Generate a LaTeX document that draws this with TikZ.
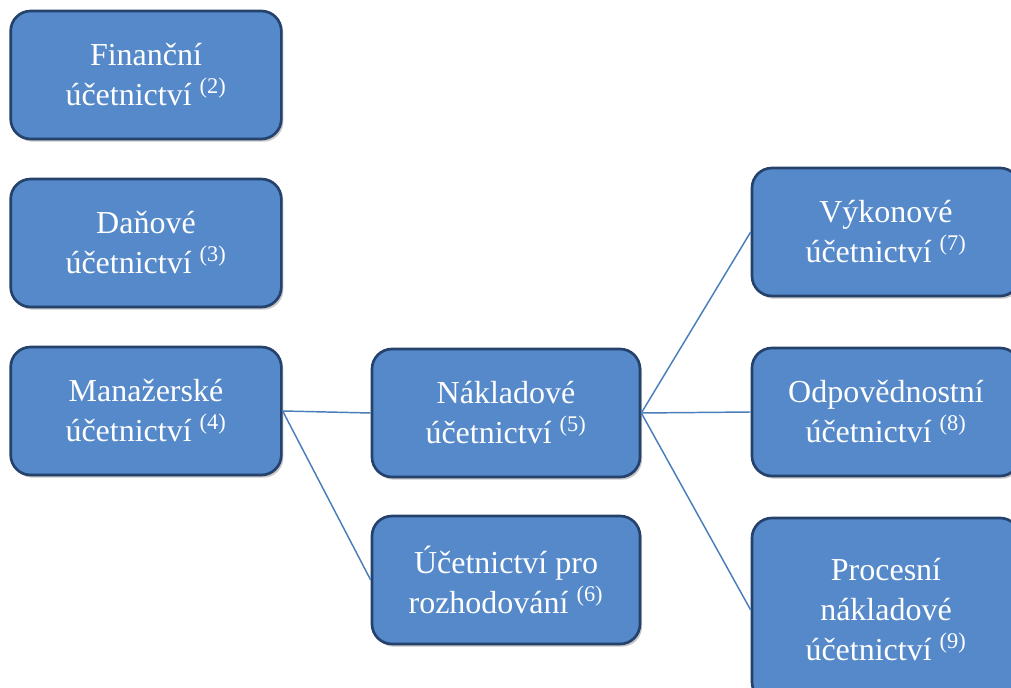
\documentclass[tikz,border=0pt]{standalone}
\usepackage{fontspec}
\setmainfont{Liberation Serif}
\usetikzlibrary{shadows}

\definecolor{boxblue}{HTML}{5589CA}
\definecolor{boxedge}{HTML}{24426C}
\definecolor{linkblue}{HTML}{4A7EBB}

\tikzset{
  ucet/.style={draw=boxedge, line width=2pt, fill=boxblue, rounded corners=15pt,
    text=white, align=center, minimum width=203pt, minimum height=96pt,
    font=\fontsize{24}{30}\selectfont,
    drop shadow={shadow xshift=1.5pt, shadow yshift=-2pt, opacity=0.45}},
  spoj/.style={linkblue, line width=1.1pt}
}

\begin{document}
\begin{tikzpicture}[x=0.75pt, y=-0.75pt]
		\useasboundingbox (0,0) rectangle (1011,688);
		% levy sloupec
		\node[ucet] (fin) at (146,75) {Finanční\\účetnictví \textsuperscript{(2)}};
		\node[ucet] (dan) at (146,243) {Daňové\\účetnictví \textsuperscript{(3)}};
		\node[ucet] (man) at (146,411) {Manažerské\\účetnictví \textsuperscript{(4)}};
		% prostredni sloupec
		\node[ucet, minimum width=201pt] (nak) at (506,413) {Nákladové\\účetnictví \textsuperscript{(5)}};
		\node[ucet, minimum width=201pt] (roz) at (506,580) {Účetnictví pro\\rozhodování \textsuperscript{(6)}};
		% pravy sloupec
		\node[ucet, minimum width=201pt] (vyk) at (886,232) {Výkonové\\účetnictví \textsuperscript{(7)}};
		\node[ucet, minimum width=201pt] (odp) at (886,412) {Odpovědnostní\\účetnictví \textsuperscript{(8)}};
		\node[ucet, minimum width=201pt, minimum height=138pt] (pro) at (886,610) {Procesní\\nákladové\\účetnictví \textsuperscript{(9)}};
		% spojnice
		\draw[spoj] (man.east) -- (nak.west);
		\draw[spoj] (man.east) -- (roz.west);
		\draw[spoj] (nak.east) -- (vyk.west);
		\draw[spoj] (nak.east) -- (odp.west);
		\draw[spoj] (nak.east) -- (pro.west);
	\end{tikzpicture}
\end{document}
